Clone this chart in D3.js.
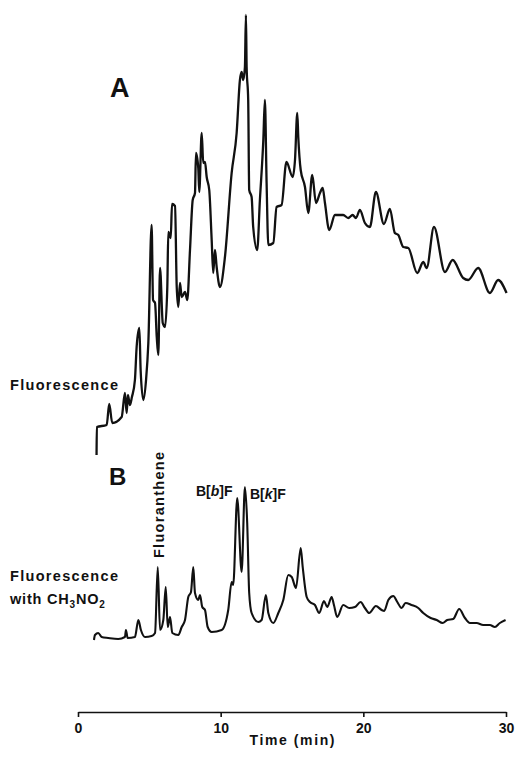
<!DOCTYPE html>
<html>
<head>
<meta charset="utf-8">
<script src="https://cdn.jsdelivr.net/npm/d3@7.9.0/dist/d3.min.js"></script>
<style>
  body { margin: 0; background: #fff; }
  svg text { font-family: 'Liberation Sans', Arial, Helvetica, sans-serif; font-weight: bold; fill: #111; }
</style>
</head>
<body>
<svg id="chart"></svg>
<script>
// Trace A: plain fluorescence (time in min, signal in arbitrary units)
const timesA = [1.30, 1.32, 2.01, 2.19, 2.40, 3.06, 3.29, 3.41, 3.50, 3.64, 3.78, 3.99, 4.11, 4.30, 4.39,
  4.58, 4.77, 4.93, 5.16, 5.26, 5.40, 5.52, 5.63, 5.75, 5.94, 6.10, 6.26, 6.33, 6.50, 6.59, 6.80,
  6.92, 7.03, 7.15, 7.27, 7.50, 7.66, 7.85, 8.04, 8.20, 8.27, 8.43, 8.50, 8.67, 8.78, 8.90, 9.02,
  9.20, 9.37, 9.48, 9.60, 9.72, 9.95, 10.30, 10.77, 11.12, 11.35, 11.47, 11.58, 11.70, 11.77, 11.82,
  11.93, 12.00, 12.17, 12.28, 12.56, 12.75, 12.99, 13.10, 13.22, 13.34, 13.69, 13.92, 14.27, 14.61,
  15.05, 15.21, 15.37, 15.44, 15.61, 15.91, 16.14, 16.42, 16.68, 16.96, 17.15, 17.31, 17.61, 18.01,
  18.59, 18.94, 19.25, 19.48, 19.76, 20.11, 20.46, 20.88, 21.44, 21.86, 22.21, 22.45, 22.80, 23.15,
  23.78, 24.20, 24.44, 24.95, 25.72, 26.26, 27.00, 27.35, 28.05, 28.87, 29.45, 30.04];
const signalA = [-5, 23, 25, 46, 27, 33, 57, 37, 55, 45, 53, 70, 103, 122, 80,
  50, 70, 107, 225, 150, 147, 113, 95, 182, 127, 123, 163, 218, 212, 246, 244,
  163, 143, 167, 153, 158, 150, 200, 250, 257, 297, 282, 258, 317, 287, 288, 273,
  260, 210, 177, 200, 183, 163, 193, 277, 317, 370, 378, 370, 383, 435, 383,
  350, 260, 253, 223, 200, 250, 310, 350, 267, 205, 207, 243, 245, 288,
  273, 290, 337, 313, 280, 263, 237, 275, 247, 257, 262, 247, 220, 235,
  235, 232, 235, 232, 240, 227, 223, 258, 226, 241, 217, 215, 203, 202,
  177, 188, 182, 223, 178, 190, 172, 170, 182, 157, 170, 157];

// Trace B: fluorescence with nitromethane quenching
const timesB = [1.12, 1.19, 1.42, 1.66, 2.12, 2.82, 3.29, 3.36, 3.48, 3.99, 4.23, 4.41, 4.70, 5.16,
  5.40, 5.59, 5.75, 5.98, 6.15, 6.29, 6.45, 6.61, 7.03, 7.27, 7.50, 7.73, 7.92, 8.08, 8.20, 8.43,
  8.55, 8.71, 8.90, 9.09, 9.37, 10.07, 10.53, 10.77, 10.88, 11.16, 11.47, 11.70, 11.86, 12.00,
  12.17, 12.64, 12.87, 13.17, 13.34, 13.69, 14.04, 14.39, 14.74, 14.98, 15.28, 15.61, 15.75,
  16.03, 16.26, 16.61, 16.91, 17.24, 17.47, 17.78, 17.94, 18.17, 18.59, 19.01, 19.41, 19.81,
  20.11, 20.41, 20.88, 21.28, 21.46, 21.75, 22.10, 22.38, 22.68, 22.96, 23.38, 23.85, 24.20,
  24.72, 25.14, 25.56, 25.88, 26.30, 26.72, 27.12, 27.47, 27.94, 28.40, 28.87, 29.22, 29.57, 29.97];
const signalB = [10, 15, 17, 13, 12, 11, 13, 20, 12, 13, 30, 20, 13, 14,
  17, 83, 20, 30, 63, 23, 33, 17, 15, 23, 30, 53, 58, 83, 57, 50,
  55, 43, 40, 23, 18, 20, 40, 68, 65, 152, 78, 163, 127, 57,
  37, 28, 30, 55, 37, 27, 37, 50, 75, 73, 62, 102, 83,
  53, 48, 45, 37, 49, 43, 53, 45, 33, 45, 42, 43, 48,
  42, 37, 44, 40, 39, 50, 54, 48, 42, 47, 45, 42, 37,
  32, 30, 27, 30, 31, 41, 32, 27, 27, 25, 25, 23, 27, 30];

const xTicks = [0, 10, 20, 30];

const width = 517;
const height = 765;

const svg = d3.select('#chart').attr('width', width).attr('height', height);

const x = d3.scaleLinear().domain([0, 30]).range([78, 506]);
const yA = d3.scaleLinear().domain([0, 440]).range([450, 10]);
const yB = d3.scaleLinear().domain([0, 160]).range([650, 490]);

// monotone curve keeps the peaks sharp but rounds the slow baseline humps
const lineA = d3.line().x((d, i) => x(timesA[i])).y((d) => yA(d)).curve(d3.curveMonotoneX);
const lineB = d3.line().x((d, i) => x(timesB[i])).y((d) => yB(d)).curve(d3.curveMonotoneX);

svg.append('path')
  .attr('d', lineA(signalA))
  .attr('fill', 'none')
  .attr('stroke', '#111')
  .attr('stroke-width', 2.3)
  .attr('stroke-linejoin', 'round');

svg.append('path')
  .attr('d', lineB(signalB))
  .attr('fill', 'none')
  .attr('stroke', '#111')
  .attr('stroke-width', 2.1)
  .attr('stroke-linejoin', 'round');

// time axis
const xAxis = d3.axisBottom(x)
  .tickValues(xTicks)
  .tickSize(5)
  .tickSizeOuter(0)
  .tickPadding(6);

const axisG = svg.append('g')
  .attr('transform', 'translate(0, 712)')
  .call(xAxis);
axisG.select('.domain').attr('stroke', '#111').attr('stroke-width', 1.6);
axisG.selectAll('.tick line').attr('stroke', '#111').attr('stroke-width', 1.6);
axisG.selectAll('.tick text')
  .style('font-family', "'Liberation Sans', Arial, sans-serif")
  .style('font-weight', 'bold')
  .style('font-size', '14px')
  .attr('fill', '#111');

svg.append('text')
  .attr('x', 292).attr('y', 745)
  .attr('text-anchor', 'middle')
  .attr('font-size', 14)
  .attr('textLength', 85)
  .attr('lengthAdjust', 'spacing')
  .text('Time (min)');

// panel letters
svg.append('text').attr('x', 110).attr('y', 97).attr('font-size', 27).text('A');
svg.append('text').attr('x', 109).attr('y', 485).attr('font-size', 24).text('B');

// trace labels
svg.append('text')
  .attr('x', 10).attr('y', 390)
  .attr('font-size', 14.5)
  .attr('textLength', 108).attr('lengthAdjust', 'spacing')
  .text('Fluorescence');

svg.append('text')
  .attr('x', 10).attr('y', 581)
  .attr('font-size', 14.5)
  .attr('textLength', 108).attr('lengthAdjust', 'spacing')
  .text('Fluorescence');

const withLabel = svg.append('text')
  .attr('x', 10).attr('y', 604)
  .attr('font-size', 14.5)
  .attr('letter-spacing', 0.8);
withLabel.append('tspan').text('with CH');
withLabel.append('tspan').attr('dy', 4).attr('font-size', 10).text('3');
withLabel.append('tspan').attr('dy', -4).text('NO');
withLabel.append('tspan').attr('dy', 4).attr('font-size', 10).text('2');

// peak labels
svg.append('text')
  .attr('transform', 'translate(164, 558) rotate(-90)')
  .attr('font-size', 14.5)
  .attr('textLength', 106).attr('lengthAdjust', 'spacing')
  .text('Fluoranthene');

const bbf = svg.append('text').attr('x', 196).attr('y', 496).attr('font-size', 14);
bbf.append('tspan').text('B[');
bbf.append('tspan').attr('font-style', 'italic').text('b');
bbf.append('tspan').text(']F');

const bkf = svg.append('text').attr('x', 250).attr('y', 499).attr('font-size', 14);
bkf.append('tspan').text('B[');
bkf.append('tspan').attr('font-style', 'italic').text('k');
bkf.append('tspan').text(']F');
</script>
</body>
</html>
